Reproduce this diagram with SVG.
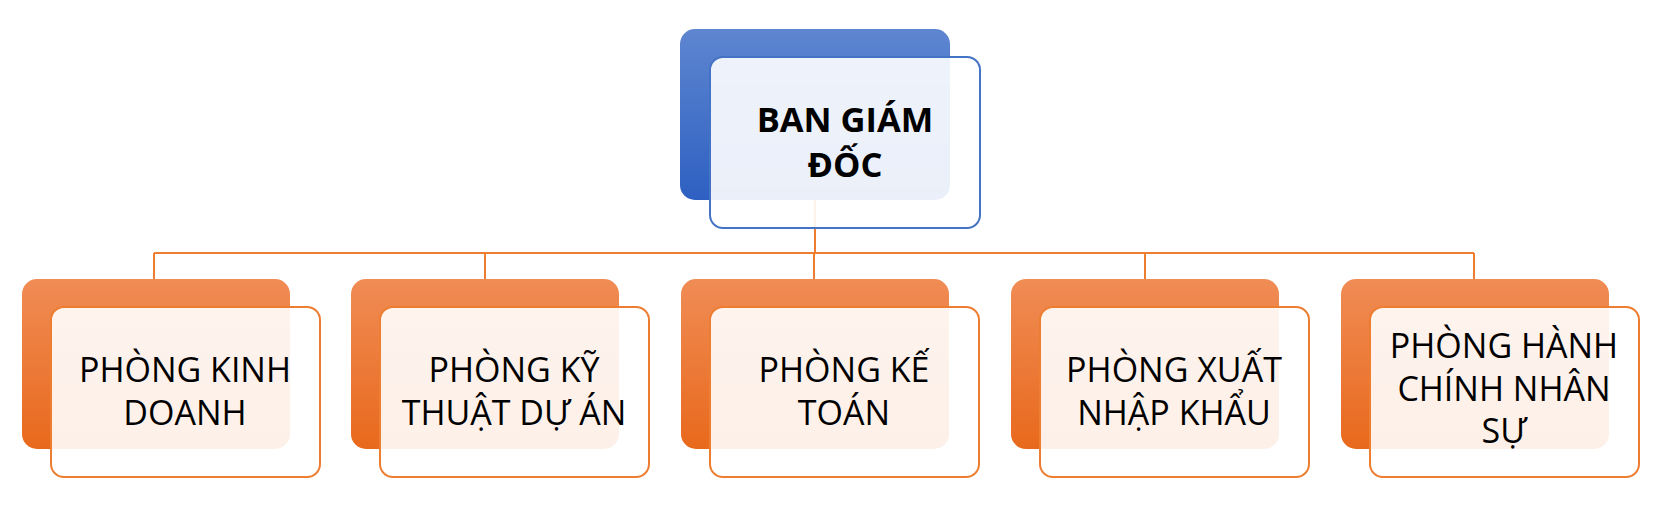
<svg xmlns="http://www.w3.org/2000/svg" width="1659" height="511" viewBox="0 0 1659 511">
<defs>
<linearGradient id="gOr" x1="0" y1="0" x2="0" y2="1">
<stop offset="0" stop-color="#f08c55"/>
<stop offset="1" stop-color="#e8691c"/>
</linearGradient>
<linearGradient id="gBl" x1="0" y1="0" x2="0" y2="1">
<stop offset="0" stop-color="#5e86d0"/>
<stop offset="1" stop-color="#2e60c2"/>
</linearGradient>
<style>
.bk{fill:url(#gOr)}
.bkb{fill:url(#gBl)}
.fr{fill:#ffffff;fill-opacity:0.9;stroke:#ed7d31;stroke-width:2}
.frb{fill:#ffffff;fill-opacity:0.9;stroke:#4472c4;stroke-width:2}
.t{font-family:"Open Sans","Liberation Sans",sans-serif;font-size:34px;fill:#000;text-anchor:middle}
.tb{font-weight:bold;font-size:34.5px}
.ln{fill:none;stroke:#ed7d31;stroke-width:2}
</style>
</defs>
<rect width="1659" height="511" fill="#ffffff"/>
<g id="connectors">
<path class="ln" d="M815 200 V253 M154 253 H1474 M154 253 V279 M485 253 V279 M814 253 V279 M1145 253 V279 M1474 253 V279"/>
</g>
<g id="n0">
<rect class="bkb" x="680" y="29" width="270" height="171" rx="15"/>
<rect class="frb" x="710" y="57" width="270" height="171" rx="13"/>
<text class="t tb" x="845" y="132">BAN GIÁM</text>
<text class="t tb" x="845" y="177">ĐỐC</text>
</g>
<g id="n1">
<rect class="bk" x="22" y="279" width="268" height="170" rx="15"/>
<rect class="fr" x="51" y="307" width="269" height="170" rx="13"/>
<text class="t" x="185" y="382">PHÒNG KINH</text>
<text class="t" x="185" y="425">DOANH</text>
</g>
<g id="n2">
<rect class="bk" x="351" y="279" width="268" height="170" rx="15"/>
<rect class="fr" x="380" y="307" width="269" height="170" rx="13"/>
<text class="t" x="514" y="382">PHÒNG KỸ</text>
<text class="t" x="514" y="425">THUẬT DỰ ÁN</text>
</g>
<g id="n3">
<rect class="bk" x="681" y="279" width="268" height="170" rx="15"/>
<rect class="fr" x="710" y="307" width="269" height="170" rx="13"/>
<text class="t" x="844" y="382">PHÒNG KẾ</text>
<text class="t" x="844" y="425">TOÁN</text>
</g>
<g id="n4">
<rect class="bk" x="1011" y="279" width="268" height="170" rx="15"/>
<rect class="fr" x="1040" y="307" width="269" height="170" rx="13"/>
<text class="t" x="1174" y="382">PHÒNG XUẤT</text>
<text class="t" x="1174" y="425">NHẬP KHẨU</text>
</g>
<g id="n5">
<rect class="bk" x="1341" y="279" width="268" height="170" rx="15"/>
<rect class="fr" x="1370" y="307" width="269" height="170" rx="13"/>
<text class="t" x="1504" y="358">PHÒNG HÀNH</text>
<text class="t" x="1504" y="401">CHÍNH NHÂN</text>
<text class="t" x="1504" y="443">SỰ</text>
</g>
</svg>
